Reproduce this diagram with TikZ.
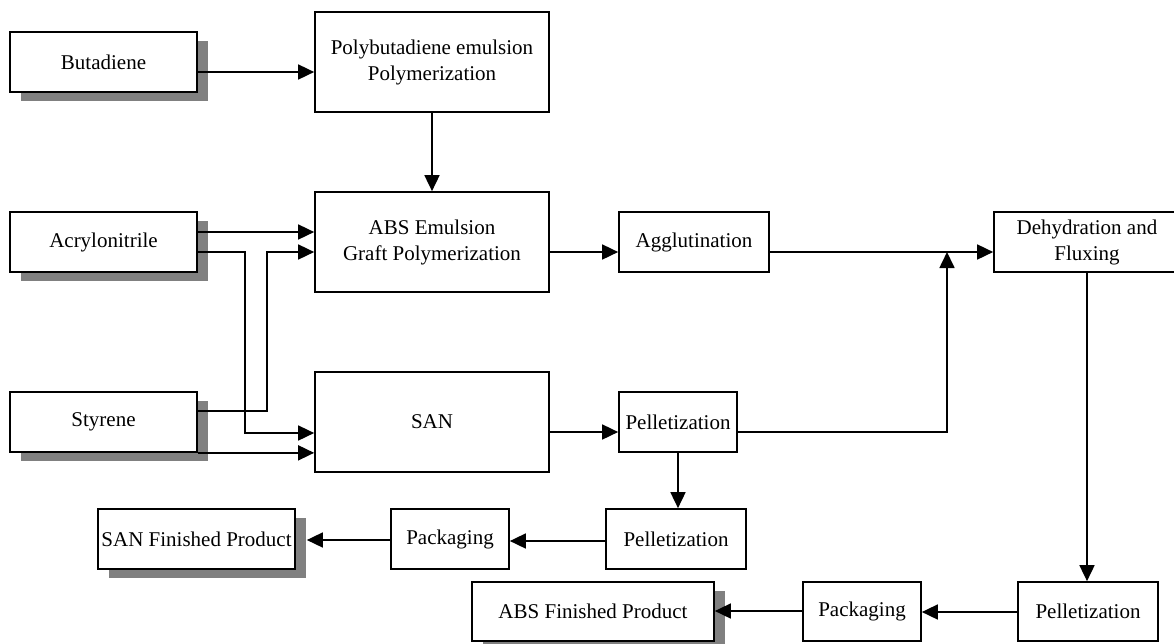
\documentclass[tikz,border=0pt]{standalone}
\usepackage{fontspec}
\setmainfont{Liberation Serif}
\usetikzlibrary{arrows.meta,shadows}
\definecolor{shadowgray}{HTML}{808080}
\begin{document}
\begin{tikzpicture}[x=1pt,y=-1pt,
  box/.style={draw, line width=1.7pt, fill=white, inner sep=0pt, align=center,
    font=\fontsize{21}{26}\selectfont},
  shbox/.style={box, general shadow={fill=shadowgray, shadow xshift=11pt, shadow yshift=-9pt}},
  arr/.style={line width=1.7pt, -{Triangle[length=16pt,width=15pt]}}]
\useasboundingbox (0,0) rectangle (1174,643);

% raw materials
\node[shbox, minimum width=187pt, minimum height=60pt] (but) at (103.5,62) {Butadiene};
\node[shbox, minimum width=187pt, minimum height=60pt] (acr) at (103.5,242) {Acrylonitrile};
\node[shbox, minimum width=187pt, minimum height=60pt] (sty) at (103.5,422) {Styrene};

% polymerization stages
\node[box, minimum width=234pt, minimum height=100pt] (poly) at (432,62) {Polybutadiene emulsion\\Polymerization};
\node[box, minimum width=234pt, minimum height=100pt] (abs) at (432,242) {ABS Emulsion\\Graft Polymerization};
\node[box, minimum width=234pt, minimum height=100pt] (san) at (432,422) {SAN};

% downstream processing
\node[box, minimum width=150pt, minimum height=60pt] (agg) at (694,242) {Agglutination};
\node[box, minimum width=186pt, minimum height=60pt] (deh) at (1087,242) {Dehydration and\\Fluxing};
\node[box, minimum width=118pt, minimum height=60pt] (pel1) at (678,422) {Pelletization};
\node[box, minimum width=140pt, minimum height=60pt] (pel2) at (676,539) {Pelletization};
\node[box, minimum width=118pt, minimum height=60pt] (pack1) at (450,539) {Packaging};
\node[shbox, minimum width=197pt, minimum height=60pt] (sanfp) at (196.5,539) {SAN Finished Product};
\node[box, minimum width=140pt, minimum height=59pt] (pel3) at (1088,611.5) {Pelletization};
\node[box, minimum width=118pt, minimum height=59pt] (pack2) at (862,611.5) {Packaging};
\node[shbox, minimum width=242pt, minimum height=59pt] (absfp) at (593,611.5) {ABS Finished Product};

% connectors
\draw[arr] (but.east |- 0,72) -- (poly.west |- 0,72);
\draw[arr] (poly.south) -- (abs.north);
\draw[arr] (acr.east |- 0,232) -- (abs.west |- 0,232);
\draw[arr] (acr.east |- 0,252) -- (245,252) -- (245,433) -- (san.west |- 0,433);
\draw[arr] (sty.east |- 0,411) -- (267,411) -- (267,252) -- (abs.west |- 0,252);
\draw[arr] (sty.south east) -- (san.west |- sty.south east);
\draw[arr] (abs.east |- 0,252) -- (agg.west |- 0,252);
\draw[arr] (agg.east |- 0,252) -- (deh.west |- 0,252);
\draw[arr] (san.east |- 0,432) -- (pel1.west |- 0,432);
\coordinate (j) at (947,252);
\draw[arr] (pel1.east |- 0,432) -- (j |- 0,432) -- (j);
\draw[arr] (pel1.south) -- (pel1.south |- pel2.north);
\draw[arr] (pel2.west |- 0,541) -- (pack1.east |- 0,541);
\coordinate (sanfpsh) at ([xshift=11pt]sanfp.east);
\draw[arr] (pack1.west |- 0,540) -- (sanfpsh |- 0,540);
\draw[arr] (deh.south) -- (deh.south |- pel3.north);
\draw[arr] (pel3.west |- 0,612) -- (pack2.east |- 0,612);
\draw[arr] (pack2.west |- 0,611) -- (absfp.east |- 0,611);
\end{tikzpicture}
\end{document}
